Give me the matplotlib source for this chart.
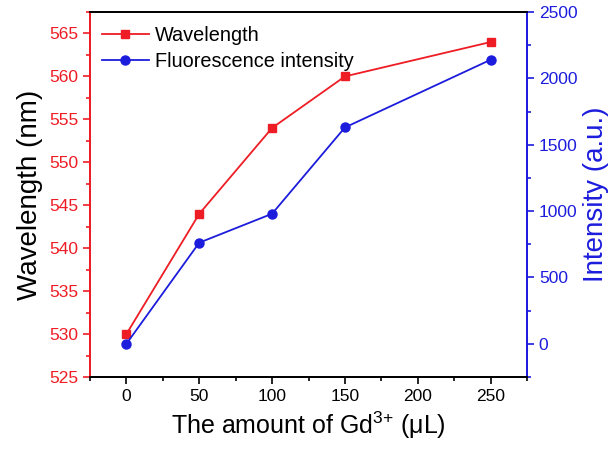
import matplotlib
matplotlib.use("Agg")
import matplotlib.pyplot as plt
from matplotlib.ticker import MultipleLocator

plt.rcParams['font.family'] = ['Liberation Sans', 'DejaVu Sans']
plt.rcParams['mathtext.fontset'] = 'custom'
plt.rcParams['mathtext.rm'] = 'Liberation Sans'
plt.rcParams['mathtext.it'] = 'Liberation Sans:italic'

amount = [0, 50, 100, 150, 250]
wavelength = [530, 544, 554, 560, 564]
intensity = [0, 762, 980, 1630, 2140]

RED = '#ee1c24'
BLUE = '#1c1cdc'

fig = plt.figure(figsize=(6.09, 4.49), dpi=100)
ax = fig.add_axes([90/609, 1-377/449, (527-90)/609, (377-12)/449])
ax2 = ax.twinx()

l1, = ax.plot(amount, wavelength, '-s', color=RED, lw=1.3, ms=5.5, label='Wavelength')
l2, = ax2.plot(amount, intensity, '-o', color=BLUE, lw=1.3, ms=6.5, label='Fluorescence intensity')

ax.set_xlim(-25, 275)
ax.set_ylim(525, 567.5)
ax2.set_ylim(-250, 2500)

ax.xaxis.set_major_locator(MultipleLocator(50))
ax.xaxis.set_minor_locator(MultipleLocator(25))
ax.yaxis.set_major_locator(MultipleLocator(5))
ax.yaxis.set_minor_locator(MultipleLocator(2.5))
ax2.yaxis.set_major_locator(MultipleLocator(500))
ax2.yaxis.set_minor_locator(MultipleLocator(250))

for a in (ax, ax2):
    for s in a.spines.values():
        s.set_linewidth(1.3)
ax.spines['left'].set_color(RED)
ax2.spines['left'].set_color(RED)
ax2.spines['right'].set_color(BLUE)
ax.spines['right'].set_color(BLUE)

ax.tick_params(axis='x', which='both', direction='out', top=False, labelsize=12.5, width=1.2, colors='black')
ax.tick_params(axis='x', which='major', length=5)
ax.tick_params(axis='x', which='minor', length=3)
ax.tick_params(axis='y', which='both', direction='out', colors=RED, labelsize=12.5, width=1.2)
ax.tick_params(axis='y', which='major', length=5)
ax.tick_params(axis='y', which='minor', length=3)
ax2.tick_params(axis='y', which='both', direction='out', colors=BLUE, labelsize=12.5, width=1.2)
ax2.tick_params(axis='y', which='major', length=5)
ax2.tick_params(axis='y', which='minor', length=3)

ax.set_xlabel('The amount of Gd$^{3{+}}$ (μL)', fontsize=18, labelpad=4)
ax.set_ylabel('Wavelength (nm)', fontsize=20, color='black', labelpad=4)
ax2.set_ylabel('Intensity (a.u.)', fontsize=20, color=BLUE, labelpad=4)

ax.legend(handles=[l1, l2], loc='upper left', frameon=False, fontsize=14.3,
          handlelength=2.35, handletextpad=0.3, borderaxespad=0.2, labelspacing=0.35,
          bbox_to_anchor=(0.0, 0.995))

fig.savefig('out.png', dpi=100)
